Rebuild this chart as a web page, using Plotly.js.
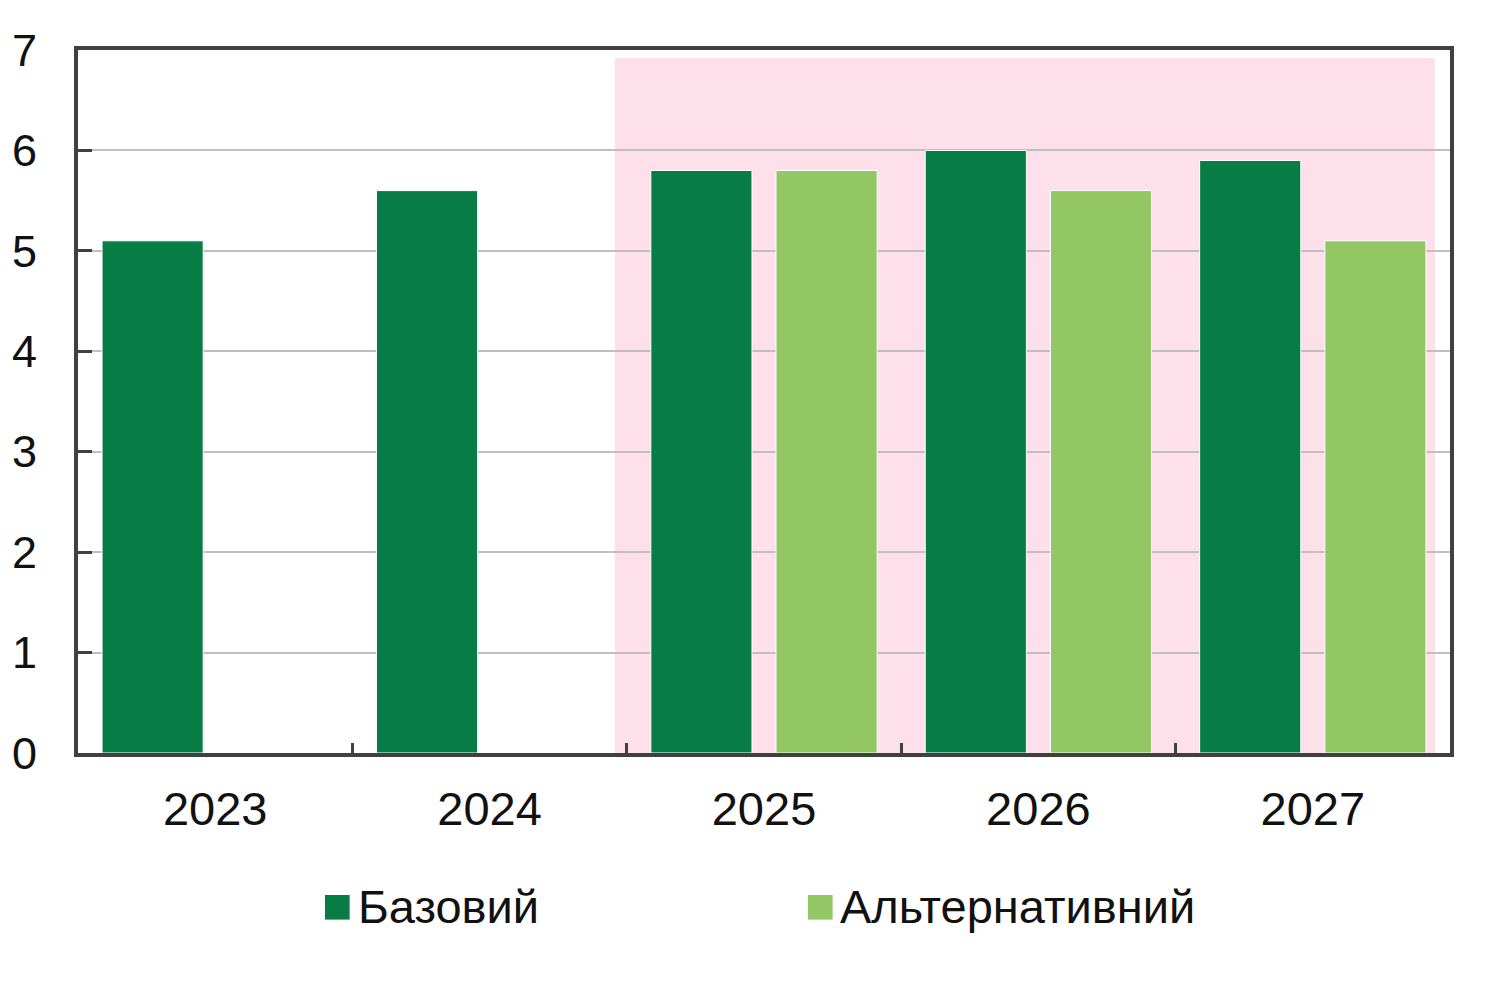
<!DOCTYPE html>
<html>
<head>
<meta charset="utf-8">
<script src="https://cdn.plot.ly/plotly-3.0.1.min.js"></script>
<style>html,body{margin:0;padding:0;background:#fff;}#chart{width:1500px;height:1008px;}</style>
</head>
<body>
<div id="chart"></div>
<script>
const years = ['2023', '2024', '2025', '2026', '2027'];
const baseValues = [5.1, 5.6, 5.8, 6.0, 5.9];
const altValues = [null, null, 5.8, 5.6, 5.1];
const seriesNames = ['Базовий', 'Альтернативний'];
const yTicks = [0, 1, 2, 3, 4, 5, 6, 7];

const darkGreen = '#077d45';
const lightGreen = '#92c763';
const font = 'Liberation Sans, Arial, sans-serif';

const traces = [
  {type: 'bar', x: years, y: baseValues, name: seriesNames[0], marker: {color: darkGreen, line: {color: '#ffffff', width: 1}}, showlegend: false},
  {type: 'bar', x: years, y: altValues, name: seriesNames[1], marker: {color: lightGreen, line: {color: '#ffffff', width: 1}}, showlegend: false}
];

const layout = {
  width: 1500, height: 1008,
  margin: {l: 78, r: 50, t: 50, b: 255},
  paper_bgcolor: '#ffffff', plot_bgcolor: '#ffffff',
  font: {family: font, size: 46, color: '#111111'},
  barmode: 'group', bargap: 0.0876, bargroupgap: 0.192,
  xaxis: {
    type: 'category', categoryorder: 'array', categoryarray: years,
    range: [-0.5, 4.5],
    showline: true, linecolor: '#404040', linewidth: 4, mirror: true,
    ticks: 'inside', tickson: 'boundaries', ticklen: 10, tickwidth: 3, tickcolor: '#404040',
    showgrid: false, ticklabelstandoff: 12,
    tickfont: {family: font, size: 47, color: '#111111'}
  },
  yaxis: {
    range: [0, 7], tickvals: yTicks, ticktext: yTicks.map(String),
    showline: true, linecolor: '#404040', linewidth: 4, mirror: true,
    ticks: 'inside', ticklen: 14, tickwidth: 3, tickcolor: '#404040',
    showgrid: true, gridcolor: '#bfbfbf', gridwidth: 2,
    zeroline: false, ticklabelstandoff: 28,
    tickfont: {family: font, size: 45, color: '#111111'}
  },
  shapes: [
    {type: 'rect', xref: 'x', yref: 'y', x0: 1.456, x1: 4.445, y0: 0, y1: 6.92,
     fillcolor: '#fde0ea', line: {width: 0}, layer: 'below'},
    {type: 'rect', xref: 'paper', yref: 'paper', x0: 0.180, x1: 0.198, y0: -0.202, y1: -0.237,
     fillcolor: darkGreen, line: {width: 0}},
    {type: 'rect', xref: 'paper', yref: 'paper', x0: 0.532, x1: 0.550, y0: -0.202, y1: -0.237,
     fillcolor: lightGreen, line: {width: 0}}
  ],
  annotations: [
    {xref: 'paper', yref: 'paper', x: 0.2025, y: -0.219, xanchor: 'left', yanchor: 'middle',
     text: seriesNames[0], showarrow: false, font: {family: font, size: 47, color: '#111111'}},
    {xref: 'paper', yref: 'paper', x: 0.554, y: -0.219, xanchor: 'left', yanchor: 'middle',
     text: seriesNames[1], showarrow: false, font: {family: font, size: 47, color: '#111111'}}
  ]
};

Plotly.newPlot('chart', traces, layout, {displayModeBar: false, staticPlot: true});
</script>
</body>
</html>
